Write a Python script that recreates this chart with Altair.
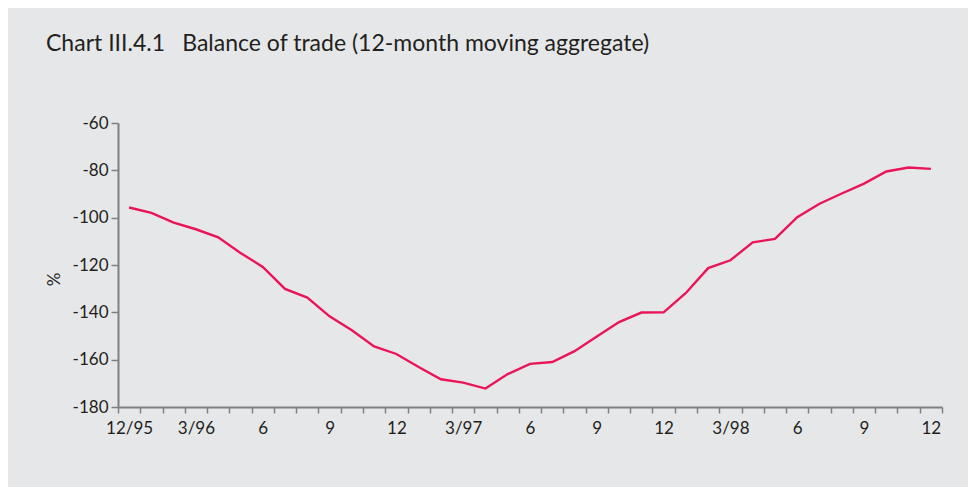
import altair as alt
import pandas as pd

months = (["1995-12"]
          + [f"1996-{m:02d}" for m in range(1, 13)]
          + [f"1997-{m:02d}" for m in range(1, 13)]
          + [f"1998-{m:02d}" for m in range(1, 13)])

balance = [-95.7, -98.0, -102.1, -104.9, -108.3, -114.9, -120.8, -130.1, -133.8,
           -141.7, -147.6, -154.4, -157.6, -163.1, -168.3, -169.7, -172.2, -166.1,
           -161.8, -161.0, -156.4, -150.2, -144.1, -140.1, -140.0, -131.8, -121.3,
           -118.0, -110.4, -109.0, -99.8, -94.1, -89.8, -85.6, -80.5, -78.8, -79.4]

tick_labels = ["12/95", "", "", "3/96", "", "", "6", "", "", "9", "", "", "12",
               "", "", "3/97", "", "", "6", "", "", "9", "", "", "12",
               "", "", "3/98", "", "", "6", "", "", "9", "", "", "12"]

y_ticks = [-60, -80, -100, -120, -140, -160, -180]

df = pd.DataFrame({"month": months, "balance": balance})

label_map = "{" + ",".join(f"'{m}':'{l}'" for m, l in zip(months, tick_labels)) + "}"

FONT = "Lato"
TEXT = "#231f20"
AXIS = "#808080"

chart = alt.Chart(df).mark_line(color="#ea1459", strokeWidth=2.4).encode(
    x=alt.X("month:O", sort=None, bandPosition=0.5,
            scale=alt.Scale(type="band", paddingInner=0, paddingOuter=0),
            axis=alt.Axis(title=None, tickBand="extent", labelExpr=label_map + "[datum.value]",
                          labelAngle=0, labelFontSize=17, labelFont=FONT, labelColor=TEXT,
                          labelPadding=7, tickSize=6, tickColor=AXIS, tickWidth=1.5,
                          domainColor=AXIS, domainWidth=2, labelOverlap=False, grid=False)),
    y=alt.Y("balance:Q",
            scale=alt.Scale(domain=[-180, -60], nice=False, zero=False),
            axis=alt.Axis(title="%", values=y_ticks, labelFontSize=17, labelFont=FONT,
                          labelExpr="replace(datum.label, '\u2212', '-')",
                          labelColor=TEXT, labelPadding=3, tickSize=7, tickColor=AXIS,
                          tickWidth=1.5, domainColor=AXIS, domainWidth=2, grid=False,
                          titleFont=FONT, titleFontSize=17, titleColor=TEXT,
                          titleFontWeight="normal", titleX=-55, titleY=156)),
).properties(
    width=824, height=284,
    padding={"left": 110, "top": 115, "right": 26, "bottom": 80},
    autosize=alt.AutoSizeParams(type="none"),
    background="#e6e7e9",
    title=alt.TitleParams(text="Chart III.4.1\u2003Balance of trade (12-month moving aggregate)",
                          anchor="start", font=FONT, fontSize=23, fontWeight="normal",
                          color=TEXT, dx=1, offset=58),
).configure_view(stroke=None)

chart.save("out.html", embed_options={"renderer": "svg", "actions": False})
